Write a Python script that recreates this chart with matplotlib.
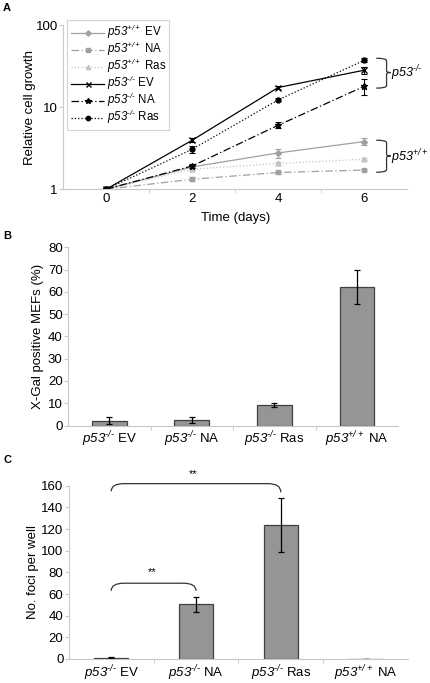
import numpy as np
import matplotlib
matplotlib.use('Agg')
import matplotlib.pyplot as plt
from matplotlib.path import Path
from matplotlib.patches import PathPatch

plt.rcParams['font.family'] = ['Liberation Sans', 'DejaVu Sans']
plt.rcParams['mathtext.fontset'] = 'custom'
plt.rcParams['mathtext.rm'] = 'Liberation Sans'
plt.rcParams['mathtext.it'] = 'Liberation Sans:italic'
plt.rcParams['mathtext.sf'] = 'Liberation Sans:italic'
plt.rcParams['font.size'] = 9

# ---- data: panel A (relative growth, log scale) ----
days = ['0', '2', '4', '6']
wt_ev = [1, 1.87, 2.77, 3.81]
wt_ev_err = [0, 0.08, 0.35, 0.35]
wt_na = [1, 1.32, 1.60, 1.71]
wt_na_err = [0, 0.07, 0.08, 0.06]
wt_ras = [1, 1.75, 2.06, 2.32]
wt_ras_err = [0, 0.05, 0.06, 0.06]
ko_ev = [1, 3.96, 17.4, 28.3]
ko_ev_err = [0, 0.2, 0.6, 3.0]
ko_na = [1, 1.92, 6.03, 18.0]
ko_na_err = [0, 0.12, 0.5, 4.0]
ko_ras = [1, 3.07, 12.3, 37.4]
ko_ras_err = [0, 0.3, 0.5, 2.0]

# ---- data: panel B (X-Gal positive MEFs, %) ----
groups = ['ko EV', 'ko NA', 'ko Ras', 'wt NA']
xgal = [2.1, 2.4, 9.2, 62.3]
xgal_err = [1.5, 1.2, 1.0, 7.7]

# ---- data: panel C (foci per well) ----
foci = [1.2, 50.4, 124, 0]
foci_err = [0.5, 7.0, 25, 0]

HY = '\u2010'
KO = r'$\mathsf{p53}^{\mathsf{' + HY + '/' + HY + r'}}$'
WT = r'$\mathsf{p53}^{\mathsf{+/+}}$'
group_labels = [KO + ' EV', KO + ' NA', KO + ' Ras', WT + ' NA']

AXC = '#c8c8c8'


def excel_axes(ax):
    for s in ['top', 'right']:
        ax.spines[s].set_visible(False)
    for s in ['left', 'bottom']:
        ax.spines[s].set_color(AXC)
        ax.spines[s].set_linewidth(0.8)
    ax.tick_params(axis='both', colors=AXC, labelcolor='black', length=3, width=0.8, labelsize=9.5)
    ax.tick_params(axis='y', pad=0.8)
    ax.tick_params(axis='x', which='major', length=0, pad=3)
    ax.tick_params(axis='x', which='minor', length=3, color=AXC)


def brace(ax, x0, w, y0, y1, ym):
    # right curly brace drawn in data coords
    verts = [(x0, y0), (x0 + w, y0), (x0 + w, y0 * 0.93),
             (x0 + w, ym * 1.05),
             (x0 + w, ym), (x0 + w * 1.4, ym),
             (x0 + w, ym), (x0 + w, ym / 1.05),
             (x0 + w, y1 / 0.93),
             (x0 + w, y1), (x0, y1)]
    codes = [Path.MOVETO, Path.CURVE3, Path.CURVE3, Path.LINETO,
             Path.CURVE3, Path.CURVE3, Path.CURVE3, Path.CURVE3,
             Path.LINETO, Path.CURVE3, Path.CURVE3]
    ax.add_patch(PathPatch(Path(verts, codes), fill=False, lw=0.9, color='#333333'))


def bracket(ax, x0, x1, y, yl, yr):
    verts = [(x0, yl), (x0, y), (x0 + 0.15, y), (x1 - 0.15, y), (x1, y), (x1, yr)]
    codes = [Path.MOVETO, Path.CURVE3, Path.CURVE3, Path.LINETO, Path.CURVE3, Path.CURVE3]
    ax.add_patch(PathPatch(Path(verts, codes), fill=False, lw=0.9, color='#333333', clip_on=False))


fig = plt.figure(figsize=(4.30, 6.83), dpi=100)

# ---------------- Panel A ----------------
axA = fig.add_axes([0.147, 0.723, 0.800, 0.240])
x = np.arange(len(days))
series = [
    (wt_ev, wt_ev_err, '#a0a0a0', '-', 'D', 3, WT + ' EV'),
    (wt_na, wt_na_err, '#a0a0a0', (0, (6, 2, 1, 2)), 's', 3.5, WT + ' NA'),
    (wt_ras, wt_ras_err, '#c4c4c4', ':', '^', 3.5, WT + ' Ras'),
    (ko_ev, ko_ev_err, 'black', '-', 'x', 4, KO + ' EV'),
    (ko_na, ko_na_err, 'black', (0, (6, 2, 1, 2)), '*', 4.5, KO + ' NA'),
    (ko_ras, ko_ras_err, 'black', ':', 'o', 3.5, KO + ' Ras'),
]
for vals, err, col, ls, mk, ms, lab in series:
    axA.errorbar(x, vals, yerr=err, color=col, ls='none', capsize=2,
                 elinewidth=0.8, capthick=0.8)
    axA.plot(x, vals, color=col, ls=ls, lw=0.9, marker=mk, ms=ms,
             mec=col, mfc=col, label=lab)
axA.set_yscale('log')
axA.set_ylim(1, 100)
axA.set_xlim(-0.5, 3.5)
axA.set_yticks([1, 10, 100])
axA.set_yticklabels(['1', '10', '100'])
axA.yaxis.set_minor_locator(matplotlib.ticker.NullLocator())
axA.set_xticks(x)
axA.set_xticklabels(days)
axA.set_xticks([0.5, 1.5, 2.5], minor=True)
excel_axes(axA)
axA.set_xlabel('Time (days)', labelpad=5, fontsize=9.5)
axA.set_ylabel('Relative cell growth', fontsize=9.5)
axA.yaxis.set_label_coords(-0.080, 0.5)
leg = axA.legend(loc='upper left', bbox_to_anchor=(0.012, 1.035), borderaxespad=0,
                 fontsize=8.3, frameon=True, fancybox=False, edgecolor='#c8c8c8',
                 handlelength=2.9, handleheight=0.5, labelspacing=-0.1,
                 borderpad=0.3, handletextpad=0.2, markerscale=0.9)
leg.get_frame().set_linewidth(0.8)
brace(axA, 3.14, 0.12, 39.6, 17.1, 26.5)
brace(axA, 3.14, 0.12, 3.96, 1.61, 2.55)
axA.text(3.31, 26.0, KO, fontsize=9, va='center', ha='left')
axA.text(3.31, 2.45, WT, fontsize=9, va='center', ha='left')
fig.text(0.007, 0.988, 'A', fontsize=8, fontweight='bold', va='center')

# ---------------- Panel B ----------------
axB = fig.add_axes([0.158, 0.377, 0.768, 0.261])
xb = np.arange(len(groups))
axB.bar(xb, xgal, width=0.42, color='#959595', edgecolor='#404040', lw=0.9,
        yerr=xgal_err, capsize=2.5, error_kw=dict(elinewidth=0.9, capthick=0.9, ecolor='black'))
axB.set_ylim(0, 80)
axB.set_xlim(-0.5, 3.5)
axB.set_yticks(np.arange(0, 81, 10))
axB.set_xticks(xb)
axB.set_xticklabels(group_labels)
axB.set_xticks([0.5, 1.5, 2.5], minor=True)
excel_axes(axB)
axB.set_ylabel('X-Gal positive MEFs (%)', fontsize=9.5)
axB.yaxis.set_label_coords(-0.071, 0.5)
fig.text(0.007, 0.655, 'B', fontsize=8, fontweight='bold', va='center')

# ---------------- Panel C ----------------
axC = fig.add_axes([0.160, 0.0352, 0.789, 0.2535])
axC.bar(xb, foci, width=0.4, color='#959595', edgecolor='#404040', lw=0.9,
        yerr=foci_err, capsize=2.5, error_kw=dict(elinewidth=0.9, capthick=0.9, ecolor='black'))
axC.set_ylim(0, 160)
axC.set_xlim(-0.5, 3.5)
axC.set_yticks(np.arange(0, 161, 20))
axC.set_xticks(xb)
axC.set_xticklabels(group_labels)
axC.set_xticks([0.5, 1.5, 2.5], minor=True)
excel_axes(axC)
axC.set_ylabel('No. foci per well', fontsize=9.5)
axC.yaxis.set_label_coords(-0.087, 0.5)
bracket(axC, 0, 2, 162, 155, 154)
bracket(axC, 0, 1, 70, 63, 63)
axC.text(0.97, 171, '**', ha='center', va='center', fontsize=8)
axC.text(0.48, 80, '**', ha='center', va='center', fontsize=8)
fig.text(0.007, 0.327, 'C', fontsize=8, fontweight='bold', va='center')

fig.savefig('out.png', dpi=100)
